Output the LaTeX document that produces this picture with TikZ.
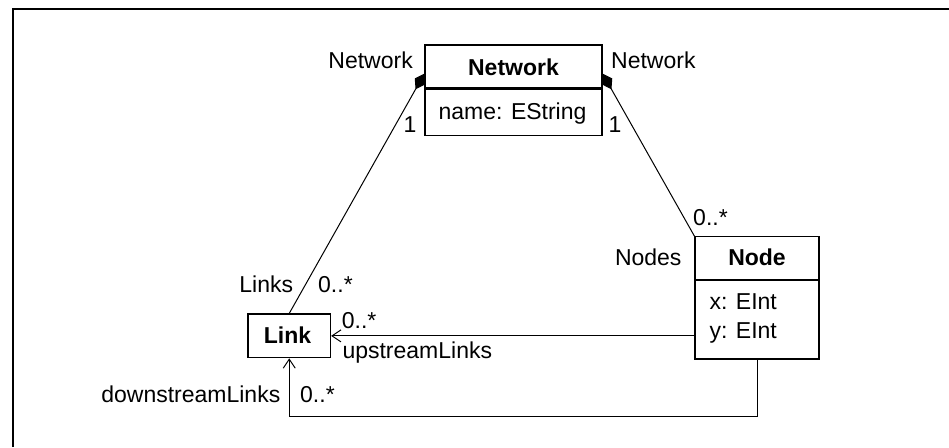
\documentclass[tikz,border=0pt]{standalone}
\usepackage{fontspec}
\setmainfont{Liberation Sans}
\usetikzlibrary{arrows.meta,calc}
\begin{document}
\begin{tikzpicture}[x=1pt,y=-1pt,
  txt/.style={font=\fontsize{23}{28}\selectfont, inner sep=0pt},
  btxt/.style={font=\fontsize{23}{28}\selectfont\bfseries, inner sep=0pt},
  box/.style={draw, line width=1.2pt, inner sep=0pt},
  conn/.style={line width=1pt},
  compo/.style={-{Diamond[length=18pt,width=12pt]}},
  ocompo/.style={{Diamond[length=18pt,width=12pt]}-},
  navi/.style={-{Straight Barb[length=9pt,width=12pt,line width=1pt]}}]
\useasboundingbox (0,0) rectangle (949,447);
% frame
\draw[line width=2pt] (13,447) -- (13,9) -- (949,9);
% Network class
\node[box, minimum width=177pt, minimum height=43pt] (netH) at (513.5,66.5) {};
\node[box, minimum width=177pt, minimum height=46pt, anchor=north] (netA) at (netH.south) {};
\node[btxt, anchor=base] (netT) at (513.5,75.5) {Network};
\node[txt, anchor=base] (netAt) at (512.5,119.5) {name: EString};
% Link class
\node[box, minimum width=82.5pt, minimum height=43.7pt] (link) at (289.25,335.85) {};
\node[btxt, anchor=base] (linkT) at (287.5,343.3) {Link};
% Node class
\node[box, minimum width=124pt, minimum height=42.6pt] (nodeH) at (757,258) {};
\node[box, minimum width=124pt, minimum height=78.4pt, anchor=north] (nodeA) at (nodeH.south) {};
\node[btxt, anchor=base] (nodeT) at (757,265) {Node};
\node[txt, anchor=base west] (ax) at (709.3,309.3) {x: EInt};
\node[txt, anchor=base west] (ay) at (709.3,338.3) {y: EInt};
% anchor points on Network
\coordinate (nwL) at ($(netH.south west)+(0,-15)$);
\coordinate (nwR) at ($(netH.south east)+(0,-15)$);
% connectors
\draw[conn, compo] (link.north) -- (nwL);
\draw[conn, ocompo] (nwR) -- (nodeH.north west);
\draw[conn, navi] (link.east -| nodeA.west) -- (link.east);
\draw[conn, navi] (nodeA.south) -- ++(0,57.3) -| (link.south);
% end labels
\node[txt, anchor=base east] (l1) at (413,68) {Network};
\node[txt, anchor=base west] (l2) at (611,68) {Network};
\node[txt, anchor=base] (l3) at (410,132) {1};
\node[txt, anchor=base] (l4) at (615,132) {1};
\node[txt, anchor=base west] (l5) at (693,225) {0..*};
\node[txt, anchor=base east] (l6) at (681.7,265) {Nodes};
\node[txt, anchor=base east] (l7) at (293.3,292.3) {Links};
\node[txt, anchor=base west] (l8) at (318,292.3) {0..*};
\node[txt, anchor=base west] (l9) at (341.7,328.3) {0..*};
\node[txt, anchor=base west] (l10) at (342.3,358) {upstreamLinks};
\node[txt, anchor=base east] (l11) at (280.5,402) {downstreamLinks};
\node[txt, anchor=base west] (l12) at (300,402) {0..*};
\end{tikzpicture}
\end{document}
